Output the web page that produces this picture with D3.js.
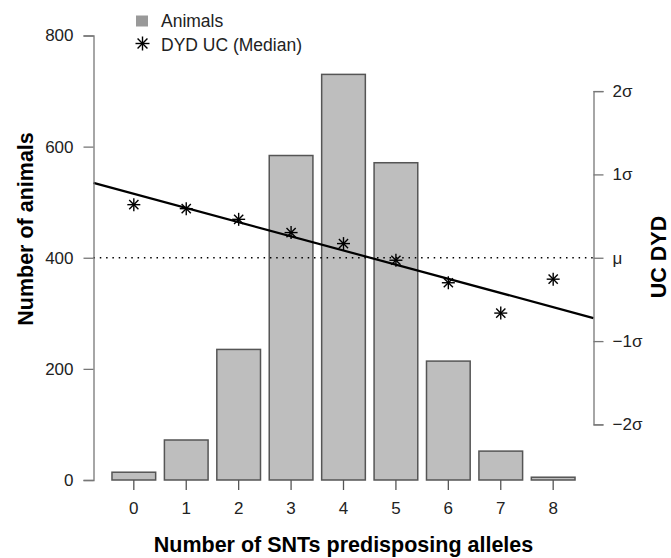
<!DOCTYPE html>
<html>
<head>
<meta charset="utf-8">
<script src="https://cdn.jsdelivr.net/npm/d3@7"></script>
<style>
  html, body { margin: 0; padding: 0; background: #fff; }
  svg { display: block; font-family: "Liberation Sans", Arial, Helvetica, sans-serif; }
</style>
</head>
<body>
<svg id="chart" width="671" height="558"></svg>
<script>
// ---- data ----
const categories = ["0", "1", "2", "3", "4", "5", "6", "7", "8"];
const animals = [14, 72, 235, 584, 730, 571, 214, 52, 5];
const dydMedianSigma = [0.637, 0.589, 0.461, 0.302, 0.170, -0.03, -0.30, -0.664, -0.257];
const regIntercept = 0.767;   // sigma units at category 0
const regSlope = -0.170;      // sigma units per category
const leftTicks = [0, 200, 400, 600, 800];
const sigmaTicks = [-2, -1, 0, 1, 2];
const sigmaTickLabels = ["\u22122\u03c3", "\u22121\u03c3", "\u03bc", "1\u03c3", "2\u03c3"];
const legendLabels = ["Animals", "DYD UC (Median)"];
const meanAnimals = 400;  // mu on left scale
const sdAnimals = 150;    // one sigma on left scale

// ---- layout ----
const plotLeft = 93.5, plotRight = 593.5;
const svg = d3.select("#chart");

const x = d3.scaleBand().domain(categories)
  .range([plotLeft, plotRight]).paddingInner(1 / 6).paddingOuter(0.3525);
const y = d3.scaleLinear().domain([0, 800]).range([480, 35.5]);
const ys = d3.scaleLinear().domain([-2, 2])
  .range([y(meanAnimals - 2 * sdAnimals), y(meanAnimals + 2 * sdAnimals)]);
const step = x.step();
const c0 = x(categories[0]) + x.bandwidth() / 2;
const xi = d3.scaleLinear().domain([0, 1]).range([c0, c0 + step]);

// ---- bars ----
svg.append("g").selectAll("rect").data(animals).join("rect")
  .attr("x", (d, i) => x(categories[i]))
  .attr("y", d => y(d))
  .attr("width", x.bandwidth())
  .attr("height", d => y(0) - y(d))
  .attr("fill", "#bebebe")
  .attr("stroke", "#555")
  .attr("stroke-width", 1.5);

// ---- mu dotted line ----
svg.append("line")
  .attr("x1", plotLeft).attr("x2", plotRight)
  .attr("y1", ys(0)).attr("y2", ys(0))
  .attr("stroke", "#000").attr("stroke-width", 1.5)
  .attr("stroke-dasharray", "1.5,4.8");

// ---- regression line ----
const iL = xi.invert(plotLeft), iR = xi.invert(plotRight);
svg.append("line")
  .attr("x1", plotLeft).attr("y1", ys(regIntercept + regSlope * iL))
  .attr("x2", plotRight).attr("y2", ys(regIntercept + regSlope * iR))
  .attr("stroke", "#000").attr("stroke-width", 2.2);

// ---- star markers ----
function star(g, cx, cy, r) {
  for (let k = 0; k < 4; k++) {
    const a = k * Math.PI / 4;
    g.append("line")
      .attr("x1", cx - r * Math.cos(a)).attr("y1", cy - r * Math.sin(a))
      .attr("x2", cx + r * Math.cos(a)).attr("y2", cy + r * Math.sin(a))
      .attr("stroke", "#000").attr("stroke-width", 1.4);
  }
}
const starG = svg.append("g");
dydMedianSigma.forEach((v, i) => star(starG, xi(i), ys(v), 6.5));

// ---- left axis ----
const leftAxis = svg.append("g").attr("transform", `translate(${plotLeft},0)`)
  .call(d3.axisLeft(y).tickValues(leftTicks).tickSize(10).tickPadding(10).tickFormat(d3.format("d")));
leftAxis.select(".domain").attr("stroke", "#777").attr("stroke-width", 1.3);
leftAxis.selectAll(".tick line").attr("stroke", "#777").attr("stroke-width", 1.3);
leftAxis.selectAll("text").attr("font-size", 17).attr("fill", "#222")
  .attr("font-family", "Liberation Sans, Arial, sans-serif");

// ---- right axis ----
const rightAxis = svg.append("g").attr("transform", `translate(${plotRight},0)`)
  .call(d3.axisRight(ys).tickValues(sigmaTicks).tickSize(10).tickPadding(9)
    .tickFormat(d => sigmaTickLabels[sigmaTicks.indexOf(d)]));
rightAxis.select(".domain").attr("stroke", "#777").attr("stroke-width", 1.3);
rightAxis.selectAll(".tick line").attr("stroke", "#777").attr("stroke-width", 1.3);
rightAxis.selectAll("text").attr("font-size", 17).attr("fill", "#222")
  .attr("font-family", "Liberation Sans, Arial, sans-serif");

// ---- bottom ticks (no domain line) ----
const bottomAxis = svg.append("g").attr("transform", `translate(0,${y(0)})`)
  .call(d3.axisBottom(x).tickSize(10).tickPadding(12));
bottomAxis.select(".domain").remove();
bottomAxis.selectAll(".tick line").attr("stroke", "#555").attr("stroke-width", 1.3);
bottomAxis.selectAll("text").attr("font-size", 17).attr("fill", "#222")
  .attr("font-family", "Liberation Sans, Arial, sans-serif");

// ---- titles ----
svg.append("text")
  .attr("x", (plotLeft + plotRight) / 2).attr("y", 551.5)
  .attr("text-anchor", "middle").attr("font-size", 21.5).attr("font-weight", "bold")
  .text("Number of SNTs predisposing alleles");
svg.append("text")
  .attr("transform", "translate(32.5,229) rotate(-90)")
  .attr("text-anchor", "middle").attr("font-size", 21.5).attr("font-weight", "bold")
  .text("Number of animals");
svg.append("text")
  .attr("transform", "translate(665.5,257) rotate(-90)")
  .attr("text-anchor", "middle").attr("font-size", 21.5).attr("font-weight", "bold")
  .text("UC DYD");

// ---- legend ----
const lg = svg.append("g");
lg.append("rect").attr("x", 136).attr("y", 15.5).attr("width", 12).attr("height", 11)
  .attr("fill", "#999");
lg.append("text").attr("x", 161).attr("y", 26.5).attr("font-size", 17.5).attr("fill", "#222")
  .text(legendLabels[0]);
star(lg, 142.5, 43.5, 7);
lg.append("text").attr("x", 161).attr("y", 50.5).attr("font-size", 17.5).attr("fill", "#222")
  .text(legendLabels[1]);
</script>
</body>
</html>
